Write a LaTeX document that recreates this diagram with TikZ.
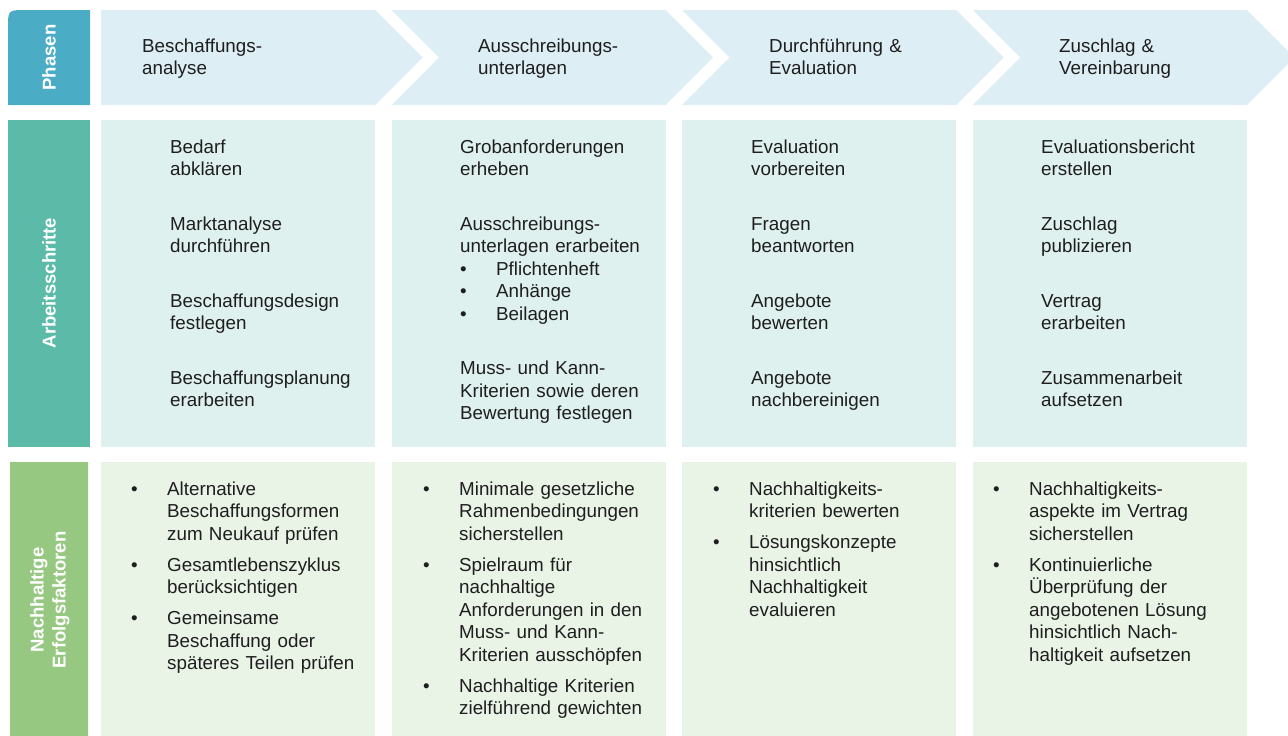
\documentclass[tikz,border=0pt]{standalone}
\usepackage{fontspec}
\setmainfont{Liberation Sans}

\definecolor{phaseblue}{HTML}{4BACC6}
\definecolor{phaselight}{HTML}{DDEEF5}
\definecolor{stepteal}{HTML}{5BBBA8}
\definecolor{steplight}{HTML}{DFF1EF}
\definecolor{factgreen}{HTML}{97C882}
\definecolor{factlight}{HTML}{E9F4E6}
\definecolor{txtgray}{HTML}{1E1E1E}

\newcommand{\blt}{\makebox[36pt][l]{\textbullet}}
\newcommand{\bind}{\hspace*{36pt}}

\tikzset{
  cell/.style={anchor=base west, inner sep=0pt, text width=260pt, align=left,
    text=txtgray, font=\fontsize{18.8}{22.5}\selectfont},
  sidelabel/.style={rotate=90, inner sep=0pt, text=white, align=center,
    font=\fontsize{18.5}{22}\selectfont\bfseries}
}

\begin{document}
\begin{tikzpicture}[x=1pt,y=-1pt]
\clip (0,0) rectangle (1288,736);
\fill[white] (0,0) rectangle (1288,736);

\fill[phaseblue] (8,105) -- (8,28) .. controls (8,10) .. (26,10) -- (90,10) -- (90,105) -- cycle;
\fill[stepteal] (8,120) rectangle (90,447);
\fill[factgreen] (10,462) -- (88,462) -- (88,740) -- (20,740) .. controls (10,740) .. (10,730) -- cycle;

\foreach \i in {0,...,3}{
  \pgfmathsetmacro\xa{101+290.6*\i}
  \pgfmathsetmacro\nd{\i==0 ? 0 : 47.5}
  \fill[phaselight] (\xa,10) -- (\xa+274,10) -- (\xa+321.5,57.5) -- (\xa+274,105)
    -- (\xa,105) -- (\xa+\nd,57.5) -- cycle;
  \fill[steplight] (\xa,120) rectangle (\xa+274,447);
  \fill[factlight] (\xa,462) rectangle (\xa+274,740);
}

\node[sidelabel] (lphase) at (49,57.5) {Phasen};
\node[sidelabel] (lstep) at (49,283) {Arbeitsschritte};
\node[sidelabel] (lfact) at (50,600) {Nachhaltige\\Erfolgsfaktoren};

\node[cell] (ph1) at (142,52) {Beschaffungs-\\analyse};
\node[cell] (ph2) at (478,52) {Ausschreibungs-\\unterlagen};
\node[cell] (ph3) at (769,52) {Durchführung \&\\Evaluation};
\node[cell] (ph4) at (1059,52) {Zuschlag \&\\Vereinbarung};

\node[cell] (as1) at (170,153) {Bedarf\\abklären\\[32pt]
  Marktanalyse\\durchführen\\[32pt]
  Beschaffungsdesign\\festlegen\\[32pt]
  Beschaffungsplanung\\erarbeiten};
\node[cell] (as2) at (460,153) {Grobanforderungen\\erheben\\[32pt]
  Ausschreibungs-\\unterlagen erarbeiten\\
  \blt Pflichtenheft\\ \blt Anhänge\\ \blt Beilagen\\[32pt]
  Muss- und Kann-\\Kriterien sowie deren\\Bewertung festlegen};
\node[cell] (as3) at (751,153) {Evaluation\\vorbereiten\\[32pt]
  Fragen\\beantworten\\[32pt]
  Angebote\\bewerten\\[32pt]
  Angebote\\nachbereinigen};
\node[cell] (as4) at (1041,153) {Evaluationsbericht\\erstellen\\[32pt]
  Zuschlag\\publizieren\\[32pt]
  Vertrag\\erarbeiten\\[32pt]
  Zusammenarbeit\\aufsetzen};

\node[cell] (nf1) at (131,495) {\blt Alternative\\ \bind Beschaffungsformen\\ \bind zum Neukauf prüfen\\[8.5pt]
  \blt Gesamtlebenszyklus\\ \bind berücksichtigen\\[8.5pt]
  \blt Gemeinsame\\ \bind Beschaffung oder\\ \bind späteres Teilen prüfen};
\node[cell] (nf2) at (423,495) {\blt Minimale gesetzliche\\ \bind Rahmenbedingungen\\ \bind sicherstellen\\[8.5pt]
  \blt Spielraum für\\ \bind nachhaltige\\ \bind Anforderungen in den\\ \bind Muss- und Kann-\\ \bind Kriterien ausschöpfen\\[8.5pt]
  \blt Nachhaltige Kriterien\\ \bind zielführend gewichten};
\node[cell] (nf3) at (713,495) {\blt Nachhaltigkeits-\\ \bind kriterien bewerten\\[8.5pt]
  \blt Lösungskonzepte\\ \bind hinsichtlich\\ \bind Nachhaltigkeit\\ \bind evaluieren};
\node[cell] (nf4) at (993,495) {\blt Nachhaltigkeits-\\ \bind aspekte im Vertrag\\ \bind sicherstellen\\[8.5pt]
  \blt Kontinuierliche\\ \bind Überprüfung der\\ \bind angebotenen Lösung\\ \bind hinsichtlich Nach-\\ \bind haltigkeit aufsetzen};
\end{tikzpicture}
\end{document}
